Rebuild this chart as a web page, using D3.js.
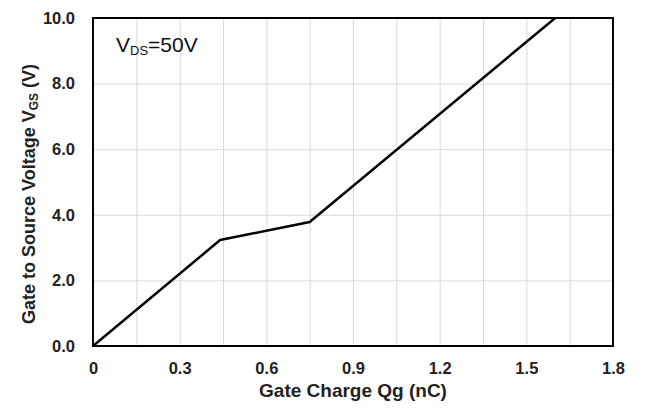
<!DOCTYPE html>
<html>
<head>
<meta charset="utf-8">
<script src="https://cdn.jsdelivr.net/npm/d3@7"></script>
<style>
  body { margin: 0; background: #fff; }
  text { font-family: "Liberation Sans", Arial, sans-serif; }
</style>
</head>
<body>
<div id="chart"></div>
<script>
// data
var gateCharge = [0, 0.44, 0.75, 1.6];      // nC
var gateVoltage = [0, 3.23, 3.78, 10.0];    // V
var xTicks = [0, 0.3, 0.6, 0.9, 1.2, 1.5, 1.8];
var xTickLabels = ["0", "0.3", "0.6", "0.9", "1.2", "1.5", "1.8"];
var yTicks = [0, 2, 4, 6, 8, 10];
var yTickLabels = ["0.0", "2.0", "4.0", "6.0", "8.0", "10.0"];
var xGrid = [0.15, 0.3, 0.45, 0.6, 0.75, 0.9, 1.05, 1.2, 1.35, 1.5, 1.65];
var yGrid = [2, 4, 6, 8];

var svgWidth = 653;
var svgHeight = 414;
var margin = { top: 18, right: 40, bottom: 68, left: 93 };
var width = svgWidth - margin.left - margin.right;
var height = svgHeight - margin.top - margin.bottom;

var svg = d3.select("#chart")
  .append("svg")
  .attr("width", svgWidth)
  .attr("height", svgHeight);

var chartGroup = svg.append("g")
  .attr("transform", `translate(${margin.left}, ${margin.top})`);

var xScale = d3.scaleLinear().domain([0, 1.8]).range([0, width]);
var yScale = d3.scaleLinear().domain([0, 10]).range([height, 0]);

// grid
chartGroup.append("g")
  .attr("class", "grid")
  .attr("transform", `translate(0, ${height})`)
  .call(d3.axisBottom(xScale).tickValues(xGrid).tickSize(-height).tickFormat(""))
  .call(g => g.select(".domain").remove())
  .call(g => g.selectAll("line").attr("stroke", "#dadada").attr("stroke-width", 1));

chartGroup.append("g")
  .attr("class", "grid")
  .call(d3.axisLeft(yScale).tickValues(yGrid).tickSize(-width).tickFormat(""))
  .call(g => g.select(".domain").remove())
  .call(g => g.selectAll("line").attr("stroke", "#dadada").attr("stroke-width", 1));

// axes labels (ticks)
chartGroup.append("g")
  .attr("transform", `translate(0, ${height})`)
  .call(d3.axisBottom(xScale).tickValues(xTicks).tickSize(0).tickPadding(16)
    .tickFormat((d, i) => xTickLabels[i]))
  .call(g => g.select(".domain").remove())
  .call(g => g.selectAll("text")
    .attr("font-size", "16.5px").attr("font-weight", "bold").attr("fill", "#222")
    .attr("font-family", "'Liberation Sans', Arial, sans-serif"));

chartGroup.append("g")
  .call(d3.axisLeft(yScale).tickValues(yTicks).tickSize(0).tickPadding(18)
    .tickFormat((d, i) => yTickLabels[i]))
  .call(g => g.select(".domain").remove())
  .call(g => g.selectAll("text")
    .attr("font-size", "16.5px").attr("font-weight", "bold").attr("fill", "#222")
    .attr("font-family", "'Liberation Sans', Arial, sans-serif"));

// the curve
var line = d3.line()
  .x(d => xScale(d[0]))
  .y(d => yScale(d[1]));

chartGroup.append("path")
  .datum(gateCharge.map((q, i) => [q, gateVoltage[i]]))
  .attr("d", line)
  .attr("fill", "none")
  .attr("stroke", "#000")
  .attr("stroke-width", 2.5)
  .attr("stroke-linejoin", "round");

// frame
chartGroup.append("rect")
  .attr("width", width)
  .attr("height", height)
  .attr("fill", "none")
  .attr("stroke", "#000")
  .attr("stroke-width", 2);

// VDS note
var note = chartGroup.append("text")
  .attr("x", 23)
  .attr("y", 34)
  .attr("font-size", "21px")
  .attr("fill", "#111");
note.append("tspan").text("V");
note.append("tspan").attr("font-size", "13px").attr("dy", 3).text("DS");
note.append("tspan").attr("dy", -3).text("=50V");

// axis titles
chartGroup.append("text")
  .attr("x", width / 2)
  .attr("y", height + 51)
  .style("text-anchor", "middle")
  .attr("font-size", "19px")
  .attr("font-weight", "bold")
  .attr("fill", "#222")
  .text("Gate Charge Qg (nC)");

var yTitle = chartGroup.append("text")
  .attr("transform", `translate(${35 - margin.left}, ${176}) rotate(-90)`)
  .style("text-anchor", "middle")
  .attr("font-size", "18px")
  .attr("font-weight", "bold")
  .attr("fill", "#222");
yTitle.append("tspan").text("Gate to Source Voltage V");
yTitle.append("tspan").attr("font-size", "12px").attr("dy", 3).text("GS");
yTitle.append("tspan").attr("dy", -3).text(" (V)");
</script>
</body>
</html>
